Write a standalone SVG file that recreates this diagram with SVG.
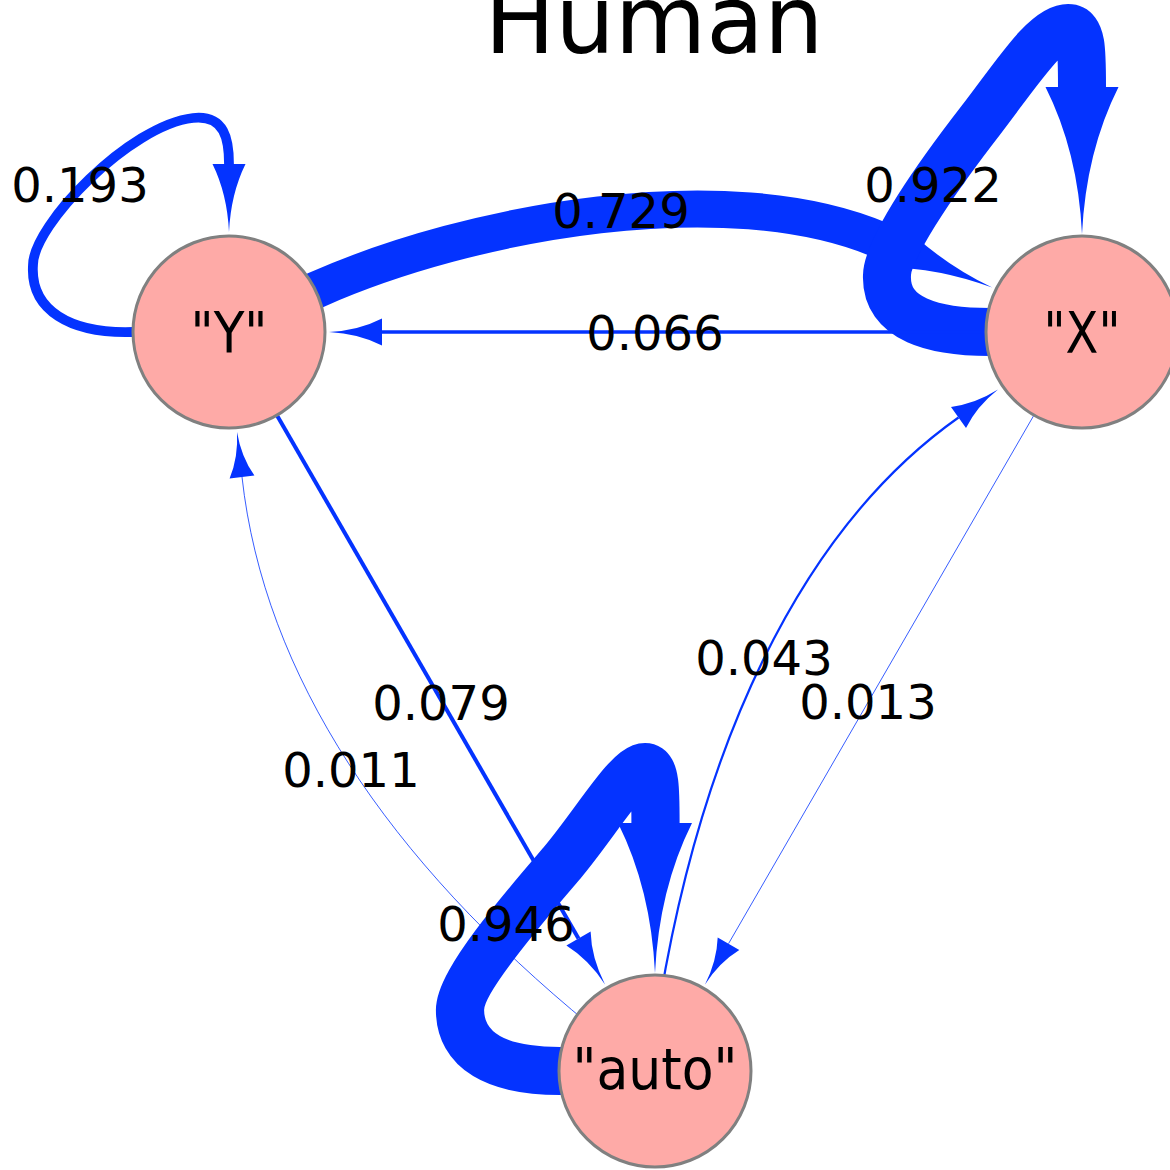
<svg xmlns="http://www.w3.org/2000/svg" width="1170" height="1170" viewBox="0 0 1170 1170">
<style>
.e{fill:none;stroke:#0433FF;stroke-linecap:butt}
.h{fill:#0433FF;stroke:none}
.n{fill:#FEAAA7;stroke:#808080;stroke-width:3}
.nl{font-family:"DejaVu Sans","Liberation Sans",sans-serif;font-size:57px;fill:#000;text-anchor:middle}
.el{font-family:"DejaVu Sans","Liberation Sans",sans-serif;font-size:48px;fill:#000;text-anchor:middle}
.t{font-family:"DejaVu Sans","Liberation Sans",sans-serif;font-size:94px;fill:#000;text-anchor:middle}
</style>
<rect width="1170" height="1170" fill="#fff"/>
<text class="t" x="654" y="53">Human</text>
<g id="connectors">
  <g id="e-Y-Y">
    <path class="e" stroke-width="9.8" d="M140,332 L133,332 C70,334 30,310 33,265 C33,225 130,125 193,118 C225,114.5 229,140 229,164"/>
    <path class="h" d="M245.5,164 Q230.8,193.9 229,232 Q227.2,193.9 212.5,164 Z"/>
  </g>
  <g id="e-Y-X">
    <path class="e" stroke-width="37" d="M288.6,302.2 L316,290 C471.4,220.8 728.2,175.6 880,240"/>
    <path class="h" d="M868.1,268.1 Q928.1,264 992.2,287.6 Q930.7,257.8 891.9,211.9 Z"/>
  </g>
  <g id="e-X-X">
    <path class="e" stroke-width="48" d="M1000,332 L990,332 C935,332 885,320 887,275 C887,245 950,160 981,120 C1015,76 1045,28 1068,28 C1082,28 1082,50 1082,87"/>
    <path class="h" d="M1118.5,87 Q1086,151.7 1082,234 Q1078,151.7 1045.5,87 Z"/>
  </g>
  <g id="e-X-Y">
    <path class="e" stroke-width="3.4" d="M1082,332 L382,332"/>
    <path class="h" d="M382,345.5 Q358.7,333.5 329,332 Q358.7,330.5 382,318.5 Z"/>
  </g>
  <g id="e-Y-auto">
    <path class="e" stroke-width="4" d="M229,332 L578.5,938.5"/>
    <path class="h" d="M566.4,945.5 Q588.8,959.5 605,984.4 Q591.4,957.9 590.6,931.5 Z"/>
  </g>
  <g id="e-X-auto">
    <path class="e" stroke-width="0.8" d="M1082,332 L728.5,943.7"/>
    <path class="h" d="M739.3,950 Q719.3,962.3 705,984.4 Q716.9,960.9 717.7,937.4 Z"/>
  </g>
  <g id="e-auto-X">
    <path class="e" stroke-width="2.2" d="M660,1000 C701,753.5 795.1,532.9 958.5,417.5"/>
    <path class="h" d="M966,428.1 Q976.7,406.4 998,389.6 Q975.1,404 951,406.9 Z"/>
  </g>
  <g id="e-auto-Y">
    <path class="e" stroke-width="0.8" d="M590,1025 C388.8,860.4 264,675.8 242,477"/>
    <path class="h" d="M254.4,475.6 Q241.2,457 237,432 Q238.4,457.4 229.6,478.4 Z"/>
  </g>
  <g id="e-auto-auto">
    <path class="e" stroke-width="48.2" d="M570,1071 L560,1071 C495,1071 460,1050 460,1010 C460,980 529.5,901 562,863 C595,824 628,767 645,767 C655.5,767 655.5,790 655.5,823"/>
    <path class="h" d="M692,823 Q659.1,889 655,973 Q650.9,889 618,823 Z"/>
  </g>
</g>
<g id="edge-labels">
  <text class="el" x="80" y="202">0.193</text>
  <text class="el" x="621" y="228">0.729</text>
  <text class="el" x="933" y="202">0.922</text>
  <text class="el" x="655" y="350">0.066</text>
  <text class="el" x="441" y="720">0.079</text>
  <text class="el" x="351" y="787">0.011</text>
  <text class="el" x="506" y="941">0.946</text>
  <text class="el" x="764" y="675">0.043</text>
  <text class="el" x="868" y="719">0.013</text>
</g>
<g id="node-Y">
  <circle class="n" cx="229" cy="332" r="96"/>
  <text class="nl" x="229" y="353" textLength="77" lengthAdjust="spacingAndGlyphs">"Y"</text>
</g>
<g id="node-X">
  <circle class="n" cx="1082" cy="332" r="96"/>
  <text class="nl" x="1082" y="353" textLength="77" lengthAdjust="spacingAndGlyphs">"X"</text>
</g>
<g id="node-auto">
  <circle class="n" cx="655" cy="1071" r="96"/>
  <text class="nl" x="655" y="1089" textLength="165" lengthAdjust="spacingAndGlyphs">"auto"</text>
</g>
</svg>
